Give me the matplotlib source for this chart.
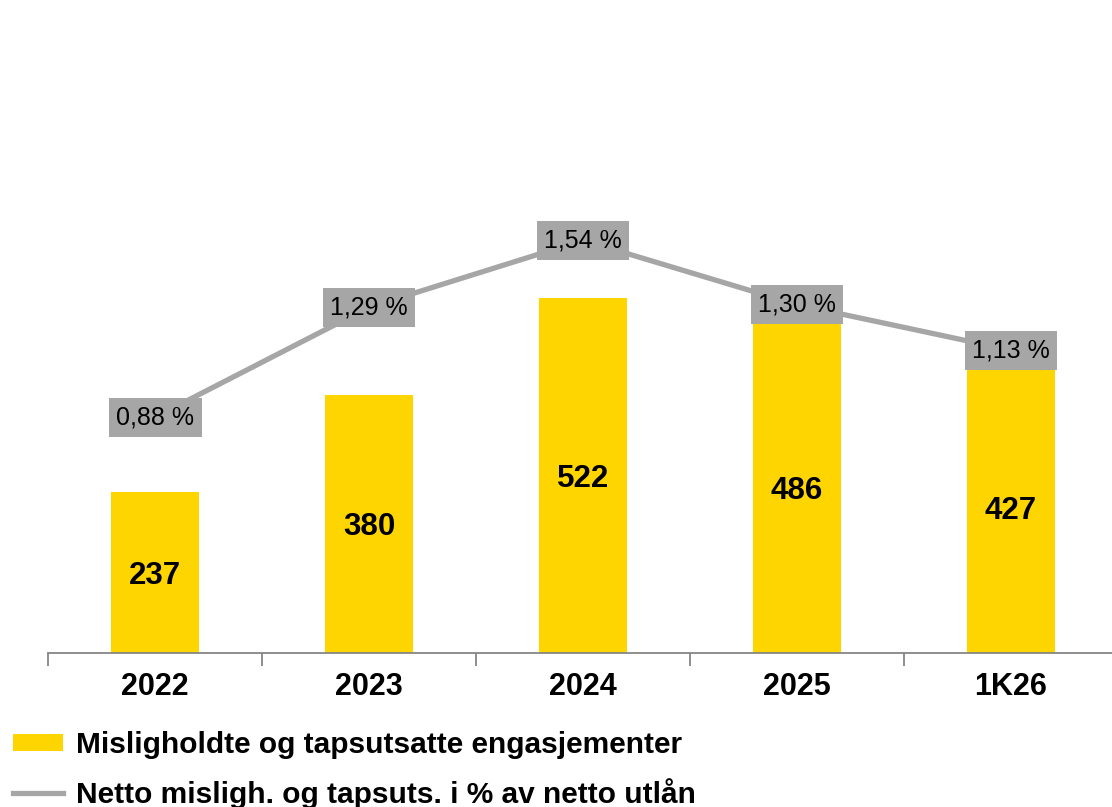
import matplotlib
matplotlib.use("Agg")
import matplotlib.pyplot as plt
from matplotlib.patches import Patch
from matplotlib.lines import Line2D
import numpy as np

categories = ["2022", "2023", "2024", "2025", "1K26"]
engasjementer = [237, 380, 522, 486, 427]
andel_pct = [0.88, 1.29, 1.54, 1.30, 1.13]

YELLOW = "#FFD500"
GREY = "#A6A6A6"
AXGREY = "#868686"

plt.rcParams['font.family'] = ['Liberation Sans', 'DejaVu Sans']

W, H = 1112, 807
fig = plt.figure(figsize=(W / 100, H / 100), dpi=100)
fig.patch.set_facecolor("white")

base_y = 653
left_x = 48
cat_w = 214
ax = fig.add_axes([left_x / W, (H - base_y) / H, cat_w * 5 / W, base_y / H])
ax.set_facecolor("none")
x = np.arange(len(categories))
ax.bar(x, engasjementer, width=0.41, color=YELLOW, zorder=2)
ax.set_xlim(-0.5, len(categories) - 0.5)
ax.set_ylim(0, base_y / 0.68)

for xi, v in zip(x, engasjementer):
    ax.text(xi, v / 2, f"{v}", ha="center", va="center_baseline", fontsize=22.5,
            fontweight="bold", color="black", zorder=3)

for s in ["top", "right", "left"]:
    ax.spines[s].set_visible(False)
ax.spines["bottom"].set_color(AXGREY)
ax.spines["bottom"].set_linewidth(1.3)
ax.set_yticks([])
ax.set_xticks(x)
ax.set_xticklabels(categories, fontsize=22, fontweight="bold")
ax.tick_params(axis="x", which="major", length=0, pad=14)
ax.set_xticks(np.arange(-0.5, len(categories), 1.0), minor=True)
ax.tick_params(axis="x", which="minor", length=9, width=1.3, color=AXGREY, direction="out")

ax2 = ax.twinx()
ax2.set_ylim(0, base_y / 268)
ax2.plot(x, andel_pct, color=GREY, linewidth=3.8, zorder=2, solid_capstyle="butt")
for s in ax2.spines.values():
    s.set_visible(False)
ax2.set_yticks([])
for xi, v in zip(x, andel_pct):
    lbl = f"{v:.2f} %".replace(".", ",")
    ax2.text(xi, v, lbl, ha="center", va="center", fontsize=18, color="black",
             zorder=4, bbox=dict(boxstyle="square,pad=0.3", facecolor=GREY, edgecolor="none"))

handles = [Patch(facecolor=YELLOW, edgecolor="none"),
           Line2D([0], [0], color=GREY, linewidth=3.8)]
labels = ["Misligholdte og tapsutsatte engasjementer",
          "Netto misligh. og tapsuts. i % av netto utlån"]
leg = fig.legend(handles, labels, loc="upper left", bbox_to_anchor=(13 / W, 1 - 731 / H),
                 frameon=False, fontsize=21.5, handlelength=1.67, handleheight=0.54,
                 handletextpad=0.45, labelspacing=0.64, borderpad=0, borderaxespad=0)
for t in leg.get_texts():
    t.set_fontweight("bold")

fig.savefig("out.png", dpi=100, facecolor="white")
